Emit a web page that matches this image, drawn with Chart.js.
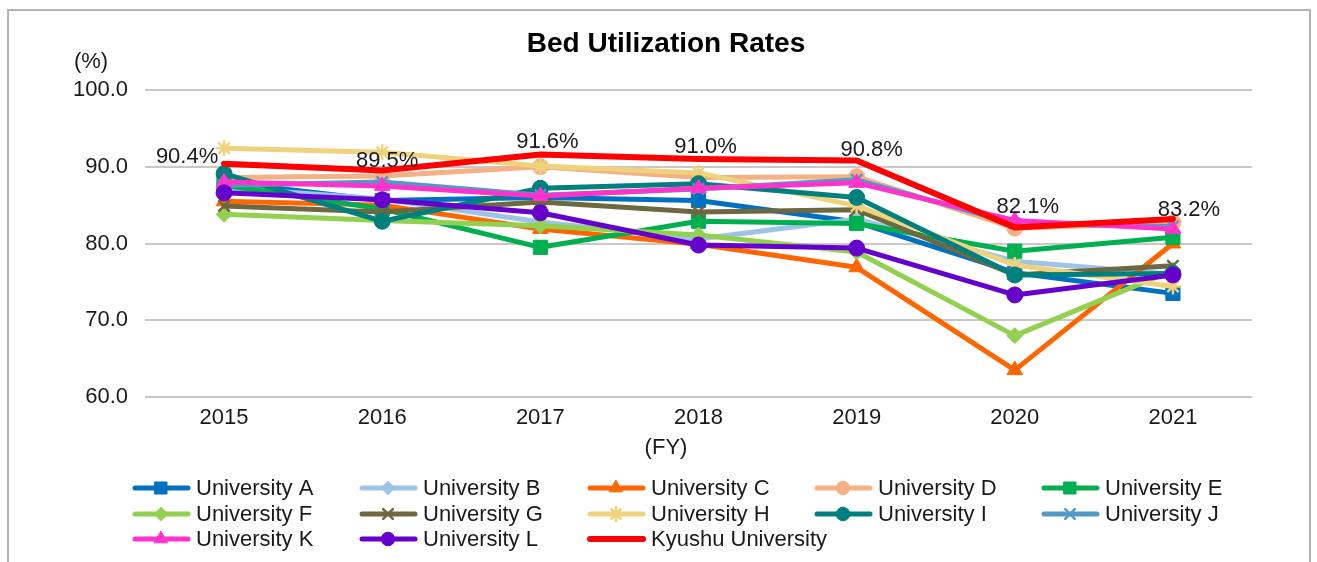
<!DOCTYPE html>
<html>
<head>
<meta charset="utf-8">
<script src="https://cdn.jsdelivr.net/npm/chart.js@4.4.1/dist/chart.umd.min.js"></script>
<style>
  html, body { margin: 0; padding: 0; background: #fff; }
  #frame { position: absolute; left: 7px; top: 9px; width: 1300px; height: 560px; border: 2px solid #b4b4b4; overflow: hidden; }
  canvas { display: block; }
</style>
</head>
<body>
<div id="frame"><canvas id="bedChart" width="1300" height="560"></canvas></div>
<script>
// fiscal years
const years = ['2015', '2016', '2017', '2018', '2019', '2020', '2021'];

// bed utilization rate (%) per university
const univA = [88.0, 85.6, 86.0, 85.6, 82.8, 76.2, 73.5];
const univB = [87.3, 85.8, 82.8, 80.6, 83.2, 77.7, 76.0];
const univC = [85.5, 85.0, 81.9, 79.9, 76.9, 63.5, 80.0];
const univD = [88.6, 88.8, 90.0, 88.6, 88.7, 82.0, 82.7];
const univE = [87.6, 84.5, 79.5, 82.9, 82.6, 79.0, 80.8];
const univF = [83.8, 83.0, 82.3, 81.1, 78.9, 68.0, 76.5];
const univG = [84.9, 84.1, 85.4, 84.1, 84.4, 75.9, 77.1];
const univH = [92.4, 91.9, 90.1, 89.2, 84.9, 77.2, 74.4];
const univI = [89.1, 82.9, 87.2, 87.8, 86.0, 75.9, 76.1];
const univJ = [87.6, 88.0, 86.3, 87.1, 88.3, 82.6, 82.2];
const univK = [88.0, 87.5, 86.2, 87.2, 87.9, 83.0, 81.9];
const univL = [86.6, 85.7, 84.0, 79.8, 79.4, 73.3, 75.9];
const kyushu = [90.4, 89.5, 91.6, 91.0, 90.8, 82.1, 83.2];

const seriesNames = ['University A', 'University B', 'University C', 'University D', 'University E',
  'University F', 'University G', 'University H', 'University I', 'University J',
  'University K', 'University L', 'Kyushu University'];
const seriesValues = [univA, univB, univC, univD, univE, univF, univG, univH, univI, univJ, univK, univL, kyushu];

// styling
const colors = ['#0070C0', '#9DC3E6', '#FF6600', '#F4B183', '#00B050', '#92D050', '#6E6841',
  '#EED27C', '#007F7F', '#4F9BC6', '#FF33CC', '#6600CC', '#FF0000'];
const markers = ['rect', 'rectRot', 'triangle', 'circle', 'rect', 'rectRot', 'crossRot',
  'star', 'circle', 'crossRot', 'triangle', 'circle', false];
const markerRadius = [10, 8, 9, 8, 10, 8, 8, 8, 8, 8, 9, 8, 0];

const FONT = "'Liberation Sans', Arial, sans-serif";
const TEXT = '#1a1a1a';

const datasets = seriesNames.map((name, i) => ({
  label: name,
  data: seriesValues[i],
  borderColor: colors[i],
  backgroundColor: colors[i],
  borderWidth: i === 12 ? 6 : 5,
  borderJoinStyle: 'round',
  borderCapStyle: 'round',
  pointStyle: markers[i],
  pointRadius: markerRadius[i],
  pointBackgroundColor: colors[i],
  pointBorderColor: colors[i],
  pointBorderWidth: (markers[i] === 'crossRot' || markers[i] === 'star') ? 2.5 : 1,
  tension: 0,
  order: 12 - i   // later series on top, Kyushu last
}));

// where the Kyushu value labels sit relative to their points
const labelShift = [[-37, -7], [5, -10], [7, -13], [7, -12], [15, -11], [13, -20], [16, -9]];

const extrasPlugin = {
  id: 'extras',
  afterDatasetsDraw(chart) {
    const ctx = chart.ctx;
    const meta = chart.getDatasetMeta(12);
    ctx.save();
    ctx.font = '22px ' + FONT;
    ctx.fillStyle = TEXT;
    ctx.textAlign = 'center';
    ctx.textBaseline = 'middle';
    meta.data.forEach((pt, i) => {
      ctx.fillText(kyushu[i].toFixed(1) + '%', pt.x + labelShift[i][0], pt.y + labelShift[i][1]);
    });
    ctx.restore();
  },
  afterDraw(chart) {
    const ctx = chart.ctx;
    const area = chart.chartArea;
    ctx.save();
    ctx.textAlign = 'center';
    ctx.textBaseline = 'middle';
    ctx.fillStyle = '#000';
    ctx.font = 'bold 28px ' + FONT;
    ctx.fillText('Bed Utilization Rates', 657, 33);

    ctx.font = '22px ' + FONT;
    ctx.fillStyle = TEXT;
    ctx.fillText('(%)', area.left - 54, area.top - 28);
    ctx.fillText('(FY)', 657, area.bottom + 51);

    // legend, 5 columns
    const cols = [124, 351, 579, 806, 1033];
    const rows = [477, 503, 528];
    chart.data.datasets.forEach((ds, i) => {
      const x = cols[i % 5];
      const y = rows[Math.floor(i / 5)];
      ctx.strokeStyle = ds.borderColor;
      ctx.lineWidth = ds.borderWidth;
      ctx.lineCap = 'round';
      ctx.beginPath();
      ctx.moveTo(x + 2, y);
      ctx.lineTo(x + 55, y);
      ctx.stroke();
      if (ds.pointStyle) {
        ctx.fillStyle = ds.pointBackgroundColor;
        ctx.lineWidth = ds.pointBorderWidth;
        Chart.helpers.drawPoint(ctx, {
          pointStyle: ds.pointStyle, radius: ds.pointRadius * 0.85, rotation: 0,
          borderWidth: ds.pointBorderWidth
        }, x + 28, y);
      }
      ctx.fillStyle = TEXT;
      ctx.textAlign = 'left';
      ctx.fillText(ds.label, x + 63, y + 1);
    });
    ctx.restore();
  }
};

new Chart(document.getElementById('bedChart'), {
  type: 'line',
  data: { labels: years, datasets },
  plugins: [extrasPlugin],
  options: {
    responsive: false,
    animation: false,
    layout: { padding: { left: 0, right: 57, top: 79, bottom: 0 } },
    plugins: {
      legend: { display: false },
      tooltip: { enabled: false },
      title: { display: false }
    },
    scales: {
      x: {
        offset: true,
        grid: { display: false, drawTicks: false },
        border: { display: false },
        ticks: { color: TEXT, font: { family: FONT, size: 22 }, padding: 8, maxRotation: 0 },
        afterFit: s => { s.height = 174; }
      },
      y: {
        min: 60,
        max: 100,
        grid: { color: '#c8c8c8', lineWidth: 2, drawTicks: false },
        border: { display: false },
        ticks: {
          stepSize: 10,
          color: TEXT,
          padding: 17,
          font: { family: FONT, size: 22 },
          callback: v => v.toFixed(1)
        },
        afterFit: s => { s.width = 136; }
      }
    }
  }
});
</script>
</body>
</html>
